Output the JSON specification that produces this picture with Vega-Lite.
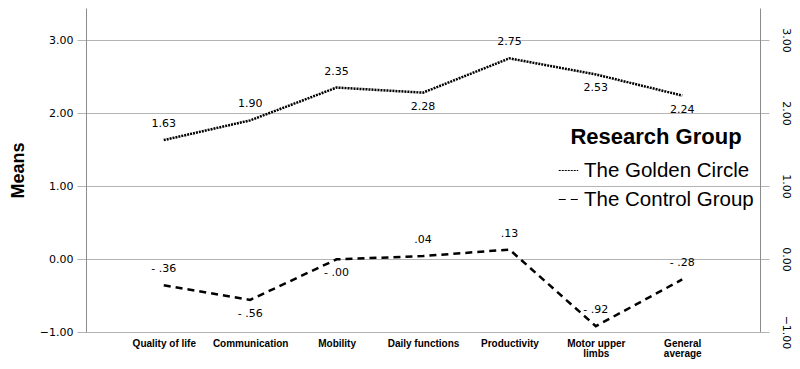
{
  "$schema": "https://vega.github.io/schema/vega-lite/v6.json",
  "width": 674,
  "height": 324,
  "autosize": {"type": "none"},
  "padding": {"left": 86, "top": 8, "right": 40, "bottom": 37},
  "background": "white",
  "config": {
    "view": {"stroke": null},
    "font": "DejaVu Sans"
  },
  "data": {
    "values": [
      {"category": "Quality of life", "group": "The Golden Circle", "mean": 1.63, "label": "1.63", "side": "above"},
      {"category": "Communication", "group": "The Golden Circle", "mean": 1.90, "label": "1.90", "side": "above"},
      {"category": "Mobility", "group": "The Golden Circle", "mean": 2.35, "label": "2.35", "side": "above"},
      {"category": "Daily functions", "group": "The Golden Circle", "mean": 2.28, "label": "2.28", "side": "below"},
      {"category": "Productivity", "group": "The Golden Circle", "mean": 2.75, "label": "2.75", "side": "above"},
      {"category": "Motor upper limbs", "group": "The Golden Circle", "mean": 2.53, "label": "2.53", "side": "below"},
      {"category": "General average", "group": "The Golden Circle", "mean": 2.24, "label": "2.24", "side": "below"},
      {"category": "Quality of life", "group": "The Control Group", "mean": -0.36, "label": "- .36", "side": "above"},
      {"category": "Communication", "group": "The Control Group", "mean": -0.56, "label": "- .56", "side": "below"},
      {"category": "Mobility", "group": "The Control Group", "mean": -0.004, "label": "- .00", "side": "below"},
      {"category": "Daily functions", "group": "The Control Group", "mean": 0.04, "label": ".04", "side": "above"},
      {"category": "Productivity", "group": "The Control Group", "mean": 0.13, "label": ".13", "side": "above"},
      {"category": "Motor upper limbs", "group": "The Control Group", "mean": -0.92, "label": "- .92", "side": "above"},
      {"category": "General average", "group": "The Control Group", "mean": -0.28, "label": "- .28", "side": "above"}
    ]
  },
  "encoding": {
    "x": {
      "field": "category",
      "type": "nominal",
      "sort": ["Quality of life", "Communication", "Mobility", "Daily functions", "Productivity", "Motor upper limbs", "General average"],
      "scale": {"type": "point", "padding": 0.9},
      "axis": {
        "title": null,
        "labelAngle": 0,
        "domain": false,
        "ticks": false,
        "grid": false,
        "labelFont": "Liberation Sans",
        "labelFontWeight": "bold",
        "labelFontSize": 10,
        "labelColor": "#000000",
        "labelPadding": 6,
        "labelLineHeight": 10,
        "labelExpr": "datum.value == 'Motor upper limbs' ? ['Motor upper', 'limbs'] : datum.value == 'General average' ? ['General', 'average'] : datum.value"
      }
    }
  },
  "layer": [
    {
      "mark": {"type": "line", "color": "#000000", "strokeWidth": 2.5},
      "encoding": {
        "y": {
          "field": "mean",
          "type": "quantitative",
          "scale": {"domain": [-1, 3.44], "nice": false, "zero": false},
          "axis": {
            "title": "Means",
            "titleFont": "Liberation Sans",
            "titleFontSize": 18,
            "titleFontWeight": "bold",
            "titleColor": "#000000",
            "titlePadding": 12,
            "values": [-1, 0, 1, 2, 3],
            "format": ".2f",
            "labelFont": "DejaVu Sans",
            "labelFontSize": 11,
            "labelColor": "#000000",
            "labelPadding": 4,
            "tickSize": 9,
            "tickColor": "#b4b4b4",
            "domainColor": "#8c8c8c",
            "gridColor": "#b4b4b4",
            "grid": true
          }
        },
        "strokeDash": {
          "field": "group",
          "type": "nominal",
          "scale": {"domain": ["The Golden Circle", "The Control Group"], "range": [[2, 1], [7, 5]]},
          "legend": {
            "orient": "none",
            "legendX": 472,
            "legendY": 119,
            "title": "Research Group",
            "titleFont": "Liberation Sans",
            "titleFontSize": 22,
            "titleFontWeight": "bold",
            "titleColor": "#000000",
            "titleAnchor": "middle",
            "titlePadding": 11,
            "labelFont": "Liberation Sans",
            "labelFontSize": 20.5,
            "labelColor": "#000000",
            "labelLimit": 300,
            "labelOffset": 5,
            "rowPadding": 8,
            "symbolType": "stroke",
            "symbolSize": 380,
            "symbolStrokeWidth": 1,
            "symbolStrokeColor": "#000000"
          }
        }
      }
    },
    {
      "transform": [{"filter": "datum.side == 'above'"}],
      "mark": {"type": "text", "dy": -16, "font": "DejaVu Sans", "fontSize": 11, "color": "#000000"},
      "encoding": {
        "y": {
          "field": "mean",
          "type": "quantitative",
          "scale": {"domain": [-1, 3.44], "nice": false, "zero": false},
          "axis": {
            "orient": "right",
            "title": null,
            "values": [-1, 0, 1, 2, 3],
            "format": ".2f",
            "labelAngle": 90,
            "labelFont": "DejaVu Sans",
            "labelFontSize": 11,
            "labelColor": "#000000",
            "labelPadding": 11,
            "tickSize": 9,
            "tickColor": "#b4b4b4",
            "domainColor": "#8c8c8c",
            "grid": false
          }
        },
        "text": {"field": "label"}
      }
    },
    {
      "transform": [{"filter": "datum.side == 'below'"}],
      "mark": {"type": "text", "dy": 14, "font": "DejaVu Sans", "fontSize": 11, "color": "#000000"},
      "encoding": {
        "y": {
          "field": "mean",
          "type": "quantitative",
          "scale": {"domain": [-1, 3.44], "nice": false, "zero": false},
          "axis": null
        },
        "text": {"field": "label"}
      }
    }
  ],
  "resolve": {"axis": {"y": "independent"}}
}
